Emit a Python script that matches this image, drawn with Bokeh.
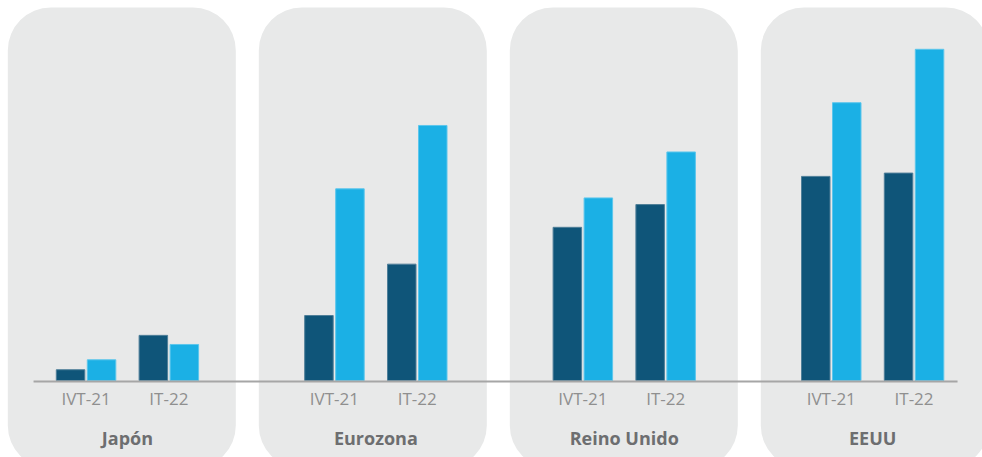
from bokeh.plotting import figure
from bokeh.models import Range1d
from bokeh.embed import file_html
from bokeh.resources import INLINE
from bokeh.core.properties import value

# ---------------- data ----------------
regions = ["Japón", "Eurozona", "Reino Unido", "EEUU"]
periods = ["IVT-21", "IT-22"]
# dark series (first bar of each pair)
serie_1_ivt21 = [0.26, 1.57, 3.70, 4.93]
serie_1_it22 = [1.09, 2.81, 4.25, 5.01]
# light series (second bar of each pair)
serie_2_ivt21 = [0.50, 4.63, 4.41, 6.71]
serie_2_it22 = [0.87, 6.16, 5.52, 8.00]

# ---------------- layout ----------------
W, H = 982, 457
PX_PER_UNIT = 41.4          # vertical pixels per unit
BASE_PX = 380               # pixel row of value 0 (from top)
FIRST_GROUP = 85.55         # x of first group centre
REGION_STEP = 248.4
PERIOD_STEP = 82.8
DODGE = 15.5
BAR_W = 28.5
PANEL_LEFT0, PANEL_STEP, PANEL_W = 7.3, 251.0, 228.0
PANEL_TOP_PX, PANEL_BOTTOM_PX, PANEL_RADIUS = 7, 468, 43

DARK = "#0f5579"
LIGHT = "#1bb0e5"
PANEL = "#e8e9e9"
BASE = "#a6a6a6"


def y_of_px(px):
    return (BASE_PX - px) / PX_PER_UNIT


p = figure(width=W, height=H, output_backend="svg", toolbar_location=None,
           x_range=Range1d(0, W), y_range=Range1d(y_of_px(H), y_of_px(0)),
           x_axis_location=None, y_axis_location=None, min_border=0,
           min_border_left=0, min_border_right=0, min_border_top=0,
           min_border_bottom=0)
p.outline_line_color = None
p.xgrid.visible = False
p.ygrid.visible = False
p.background_fill_color = "white"
p.border_fill_color = "white"

# panels
pl = [PANEL_LEFT0 + i * PANEL_STEP for i in range(len(regions))]
p.quad(left=pl, right=[v + PANEL_W for v in pl],
       top=[y_of_px(PANEL_TOP_PX)] * len(pl),
       bottom=[y_of_px(PANEL_BOTTOM_PX)] * len(pl),
       fill_color=PANEL, line_color=None, border_radius=PANEL_RADIUS)

# bars
xs_dark, xs_light, h_dark, h_light, gx, glabel = [], [], [], [], [], []
for i, r in enumerate(regions):
    for j, per in enumerate(periods):
        c = FIRST_GROUP + i * REGION_STEP + j * PERIOD_STEP
        gx.append(c)
        glabel.append(per)
        xs_dark.append(c - DODGE)
        xs_light.append(c + DODGE)
        h_dark.append([serie_1_ivt21, serie_1_it22][j][i])
        h_light.append([serie_2_ivt21, serie_2_it22][j][i])

p.vbar(x=xs_dark, top=h_dark, bottom=0, width=BAR_W, fill_color=DARK,
       line_color="#4f7f99", line_width=1)
p.vbar(x=xs_light, top=h_light, bottom=0, width=BAR_W, fill_color=LIGHT,
       line_color="#5cc6ec", line_width=1)

# baseline
p.segment(x0=[FIRST_GROUP - 52.5], x1=[FIRST_GROUP + 3 * REGION_STEP + PERIOD_STEP + 43.5],
          y0=[y_of_px(BASE_PX + 1)], y1=[y_of_px(BASE_PX + 1)],
          line_color=BASE, line_width=2)

# period labels
p.text(x=gx, y=[y_of_px(398)] * len(gx), text=glabel, text_align="center",
       text_baseline="middle", text_font=value("Open Sans"),
       text_font_size="17px", text_color="#8f8f8f")

# region titles
rx = [FIRST_GROUP + i * REGION_STEP + PERIOD_STEP / 2 for i in range(len(regions))]
p.text(x=rx, y=[y_of_px(437)] * len(rx), text=regions, text_align="center",
       text_baseline="middle", text_font=value("Open Sans"),
       text_font_size="18px", text_font_style="bold", text_color="#6d6e70")

open("out.html", "w").write(file_html(p, INLINE))
